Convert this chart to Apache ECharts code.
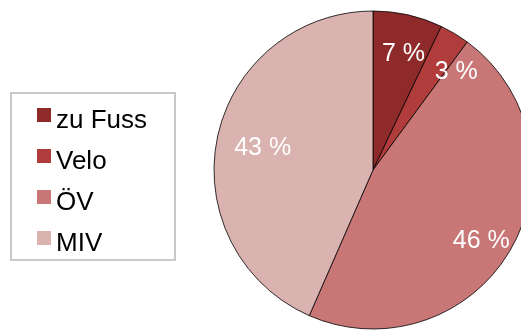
<!DOCTYPE html>
<html>
<head>
<meta charset="utf-8">
<script src="https://cdn.jsdelivr.net/npm/echarts@6/dist/echarts.min.js"></script>
<style>
  html, body { margin: 0; padding: 0; background: #fff; }
  #chart { width: 521px; height: 332px; }
</style>
</head>
<body>
<div id="chart"></div>
<script>
// Modal split (share of trips, %)
const categories = ['zu Fuss', 'Velo', 'ÖV', 'MIV'];
const shares = [7, 3, 46, 43];
const colors = ['#8f2a2a', '#b03c3c', '#c87676', '#dab2b0'];
// nudges for the in-slice percentage labels
const labelOffsets = [[3, 6], [19, 9], [0, 9], [12, 4]];

const FONT = '"Liberation Sans", Arial, sans-serif';
const CENTER = [373, 170];
const R = 159;

const chart = echarts.init(document.getElementById('chart'), null, { renderer: 'canvas' });

const sliceData = categories.map((name, i) => ({
  name, value: shares[i], itemStyle: { color: colors[i] }
}));

const labelData = categories.map((name, i) => ({
  name, value: shares[i],
  label: { offset: labelOffsets[i] }
}));

chart.setOption({
  animation: false,
  graphic: [{
    type: 'rect',
    shape: { x: 11, y: 93, width: 164, height: 167 },
    style: { fill: '#fff', stroke: '#c8c8c8', lineWidth: 2 },
    z: -1
  }],
  legend: {
    orient: 'vertical',
    left: 37,
    top: 96,
    padding: 0,
    itemGap: 3,
    itemWidth: 14,
    itemHeight: 14,
    icon: 'rect',
    itemStyle: { borderWidth: 0 },
    data: categories,
    formatter: name => '{t|' + name + '}',
    textStyle: {
      fontFamily: FONT,
      color: '#000',
      rich: {
        t: {
          fontFamily: FONT,
          fontSize: 26,
          lineHeight: 26,
          color: '#000',
          padding: [12, 0, 0, 0]
        }
      }
    },
    selectedMode: false
  },
  series: [
    {
      type: 'pie',
      center: CENTER,
      radius: [0, R],
      startAngle: 90,
      clockwise: true,
      silent: true,
      label: { show: false },
      labelLine: { show: false },
      itemStyle: { borderColor: '#000', borderWidth: 0.8 },
      data: sliceData
    },
    {
      // transparent ring that positions the percentage labels
      type: 'pie',
      center: CENTER,
      radius: [85, R],
      startAngle: 90,
      clockwise: true,
      silent: true,
      legendHoverLink: false,
      itemStyle: { color: 'rgba(0,0,0,0)', borderWidth: 0 },
      label: {
        show: true,
        position: 'inside',
        formatter: p => p.value + ' %',
        color: '#fff',
        fontFamily: FONT,
        fontSize: 25
      },
      labelLine: { show: false },
      data: labelData
    }
  ]
});
</script>
</body>
</html>
